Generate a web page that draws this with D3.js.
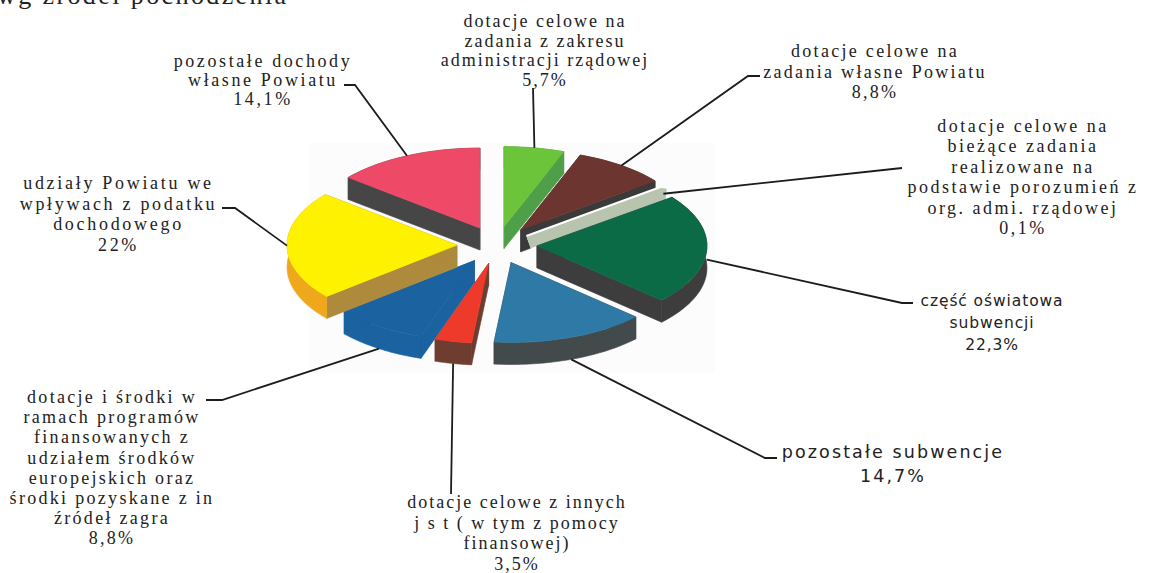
<!DOCTYPE html>
<html>
<head>
<meta charset="utf-8">
<script src="https://cdn.jsdelivr.net/npm/d3@7"></script>
<style>
  html, body { margin: 0; padding: 0; background: #fff; overflow: hidden; }
  text { fill: #222; }
</style>
</head>
<body>
<div id="chart"></div>
<script>
var w = 1152;
var h = 573;

// data, clockwise from the top of the pie
var shares = [5.7, 8.8, 0.1, 22.3, 14.7, 3.5, 8.8, 22, 14.1];
var shareLabels = ["5,7%", "8,8%", "0,1%", "22,3%", "14,7%", "3,5%", "8,8%", "22%", "14,1%"];
var names = [
    ["dotacje celowe na", "zadania z zakresu", "administracji rządowej"],
    ["dotacje celowe na", "zadania własne Powiatu"],
    ["dotacje celowe na", "bieżące zadania", "realizowane na", "podstawie porozumień z", "org. admi. rządowej"],
    ["część oświatowa", "subwencji"],
    ["pozostałe subwencje"],
    ["dotacje celowe z innych", "j s t ( w tym z pomocy", "finansowej)"],
    ["dotacje i środki w", "ramach programów", "finansowanych z", "udziałem środków", "europejskich oraz", "środki pozyskane z in", "źródeł zagra"],
    ["udziały Powiatu we", "wpływach z podatku", "dochodowego"],
    ["pozostałe dochody", "własne Powiatu"]
];

// look of each slice
var topColors = ["#6cc43a", "#6c3530", "#b9c4ae", "#0b6b47", "#2f79a6", "#ee3a2a", "#1a62a0", "#fff200", "#ee4a68"];
var sideColors = ["#4f9f48", "#3a3a3a", "#b9c4ae", "#3d3d3d", "#434a4b", "#6e3d30", "#1a62a0", "#ad8a3c", "#464646"];
var rimColors = ["#4f9f48", "#3a3a3a", "#b9c4ae", "#3d3d3d", "#434a4b", "#6e3d30", "#1a62a0", "#efa81c", "#464646"];
var depths = [22, 22, 0, 22, 22, 22, 22, 22, 22];
var paintOrder = [8, 0, 1, 2, 3, 4, 6, 7, 5];

// label blocks: centre x, first line y, line step, font, elbow of the leader, end of the leader
var labelX = [545, 875, 1023, 992, 893, 517, 112, 118.5, 263];
var labelY = [27, 57, 132, 306, 458, 508, 403, 189, 67];
var labelStep = [19.5, 20.5, 20.4, 22, 24, 20.5, 20.2, 20.5, 19];
var labelSize = [18, 18, 18, 15.5, 17.5, 18, 18, 18, 18];
var labelSpacing = [2, 2.3, 2.5, 0.9, 2.1, 2, 2.3, 2.7, 2.6];
var leaderEnd = [[533, 88], [760, 76], [902, 168], [913, 303], [777, 458], [451, 494], [206, 400], [222, 208], [344, 85]];
var leaderElbow = [null, [748, 76], null, [902, 303], [765, 458], null, [222, 400], [235, 208], [355, 85]];
var leaderDrop = [0, 0, 0, 0.45, 1, 1, 1, 0, 0];
var sansLabels = [3, 4];

var cx = 497, cy = 245;
var radius = 170, tilt = 0.47, explode = 40;

var svg = d3.select("#chart")
    .append("svg")
    .attr("width", w)
    .attr("height", h);

// faint scan background behind the pie
svg.append("rect")
    .attr("x", 310).attr("y", 143)
    .attr("width", 405).attr("height", 230)
    .attr("fill", "#fcfcfc");

svg.append("text")
    .attr("x", -3)
    .attr("y", 3.5)
    .attr("font-family", "Liberation Serif")
    .attr("font-size", "26px")
    .attr("letter-spacing", "2.4px")
    .text("wg źródeł pochodzenia");

var slices = d3.pie().sort(null).value(function (d) { return d; })(shares);

function apex(i) {
    var a = (slices[i].startAngle + slices[i].endAngle) / 2;
    var nudge = i === 2 ? 9 : 0; // the thin slice sits lower than its neighbours
    return [cx + explode * Math.sin(a), cy - explode * tilt * Math.cos(a) + nudge];
}

function onRim(i, a) {
    var p = apex(i);
    return [p[0] + radius * Math.sin(a), p[1] - radius * tilt * Math.cos(a)];
}

var arc = d3.arc().innerRadius(0).outerRadius(radius);
var line = d3.line();

paintOrder.forEach(function (i) {
    var s = slices[i];
    var p = apex(i);
    var g = svg.append("g");
    var depth = depths[i];
    var place = "translate(" + p[0] + "," + p[1] + ") scale(1," + tilt + ")";

    if (depth > 0) {
        // two cut faces
        [s.startAngle, s.endAngle].forEach(function (a) {
            var r = onRim(i, a);
            g.append("path")
                .attr("d", line([p, r, [r[0], r[1] + depth], [p[0], p[1] + depth]]) + "Z")
                .attr("fill", sideColors[i])
                .attr("stroke", sideColors[i])
                .attr("stroke-width", 0.6);
        });

        // outer wall
        var steps = d3.range(0, 41).map(function (k) {
            return s.startAngle + (s.endAngle - s.startAngle) * k / 40;
        });
        g.append("path")
            .attr("d", d3.area()
                .x(function (a) { return onRim(i, a)[0]; })
                .y0(function (a) { return onRim(i, a)[1]; })
                .y1(function (a) { return onRim(i, a)[1] + depth; })(steps))
            .attr("fill", rimColors[i])
            .attr("stroke", rimColors[i])
            .attr("stroke-width", 0.6);
    } else {
        // the 0.1% slice only shows through its outline, with a white gap round it
        g.append("path")
            .attr("transform", place)
            .attr("d", arc(s))
            .attr("fill", "none")
            .attr("stroke", "#fff")
            .attr("stroke-width", 16)
            .attr("stroke-linejoin", "bevel")
            .attr("vector-effect", "non-scaling-stroke");
    }

    g.append("path")
        .attr("transform", place)
        .attr("d", arc(s))
        .attr("fill", topColors[i])
        .attr("stroke", topColors[i])
        .attr("stroke-width", depth > 0 ? 0.6 : 12)
        .attr("stroke-linejoin", "bevel")
        .attr("vector-effect", "non-scaling-stroke");
});

// leaders
shares.forEach(function (d, i) {
    var a = (slices[i].startAngle + slices[i].endAngle) / 2;
    var start = onRim(i, a);
    start[1] += leaderDrop[i] * 22;
    var pts = [start];
    if (leaderElbow[i]) pts.push(leaderElbow[i]);
    pts.push(leaderEnd[i]);
    svg.append("path")
        .attr("d", line(pts))
        .attr("fill", "none")
        .attr("stroke", "#1c1c1c")
        .attr("stroke-width", 1.8);
});

// labels
shares.forEach(function (d, i) {
    var sans = sansLabels.indexOf(i) >= 0;
    var rows = names[i].concat([shareLabels[i]]);
    svg.append("g").selectAll("text")
        .data(rows)
        .enter()
        .append("text")
        .text(function (r) { return r; })
        .attr("x", labelX[i])
        .attr("y", function (r, k) { return labelY[i] + k * labelStep[i]; })
        .attr("text-anchor", "middle")
        .attr("font-family", sans ? "DejaVu Sans" : "Liberation Serif")
        .attr("font-size", labelSize[i] + "px")
        .attr("letter-spacing", labelSpacing[i] + "px");
});
</script>
</body>
</html>
